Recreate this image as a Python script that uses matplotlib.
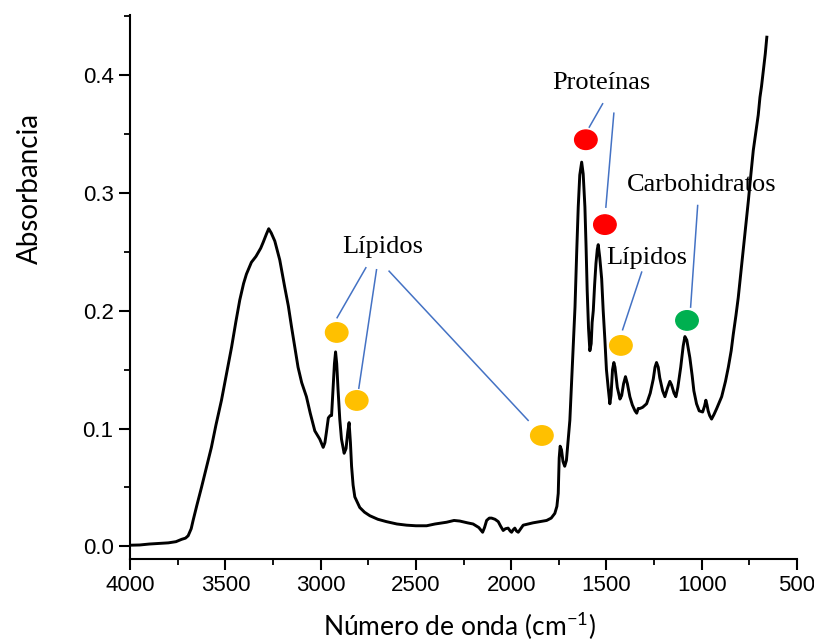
import matplotlib
matplotlib.use('Agg')
from matplotlib import pyplot as plt
from matplotlib.patches import Ellipse
from matplotlib.ticker import MultipleLocator, FormatStrFormatter

# spectrum (wavenumber cm-1, absorbance)
wavenumber = [4000, 3950, 3900, 3850, 3800, 3760, 3730, 3710, 3696, 3680, 3670, 3650,
	3626, 3600, 3574, 3550, 3521, 3495, 3468, 3445, 3425, 3405, 3390, 3364, 3340, 3329,
	3315, 3302, 3285, 3273, 3260, 3241, 3215, 3189, 3170, 3153, 3135, 3119, 3100, 3075,
	3055, 3031, 3005, 2995, 2987, 2978, 2970, 2960, 2950, 2943, 2935, 2928, 2922, 2916,
	2909, 2900, 2891, 2877, 2867, 2858, 2851, 2844, 2838, 2830, 2821, 2795, 2770, 2742,
	2700, 2655, 2600, 2549, 2500, 2444, 2400, 2339, 2300, 2270, 2230, 2200, 2170, 2150,
	2140, 2129, 2115, 2103, 2085, 2068, 2055, 2042, 2030, 2016, 2005, 1998, 1990, 1981,
	1972, 1963, 1950, 1937, 1910, 1885, 1850, 1814, 1790, 1771, 1760, 1753, 1748, 1743,
	1736, 1728, 1719, 1710, 1700, 1692, 1680, 1665, 1656, 1648, 1640, 1630, 1622, 1613,
	1607, 1601, 1594, 1587, 1580, 1575, 1569, 1562, 1555, 1548, 1543, 1535, 1525, 1517,
	1508, 1500, 1491, 1482, 1476, 1468, 1461, 1455, 1443, 1429, 1420, 1410, 1400, 1390,
	1377, 1364, 1350, 1341, 1333, 1324, 1310, 1289, 1270, 1254, 1245, 1237, 1228, 1220,
	1205, 1193, 1180, 1167, 1158, 1145, 1135, 1125, 1110, 1097, 1088, 1078, 1062, 1050,
	1041, 1027, 1013, 995, 985, 978, 972, 966, 958, 948, 935, 921, 895, 875, 860, 845,
	834, 820, 808, 795, 782, 768, 755, 742, 729, 717, 703, 694, 686, 676, 666, 658]
absorbance = [0.001, 0.0012, 0.002, 0.0025, 0.003, 0.004, 0.006, 0.007, 0.009, 0.015, 0.022, 0.035,
	0.050, 0.067, 0.084, 0.103, 0.124, 0.146, 0.169, 0.191, 0.209, 0.223, 0.231, 0.241, 0.246, 0.249,
	0.253, 0.258, 0.265, 0.2695, 0.266, 0.259, 0.243, 0.220, 0.204, 0.186, 0.168, 0.152, 0.139, 0.127,
	0.113, 0.098, 0.091, 0.087, 0.084, 0.088, 0.097, 0.109, 0.111, 0.111, 0.135, 0.155, 0.165, 0.155,
	0.133, 0.108, 0.091, 0.079, 0.083, 0.097, 0.105, 0.088, 0.068, 0.052, 0.042, 0.033, 0.029, 0.026,
	0.023, 0.021, 0.019, 0.018, 0.0175, 0.0175, 0.019, 0.0205, 0.022, 0.0215, 0.020, 0.019, 0.016, 0.012,
	0.016, 0.022, 0.024, 0.024, 0.023, 0.021, 0.017, 0.0135, 0.015, 0.0155, 0.013, 0.012, 0.014, 0.0155,
	0.013, 0.012, 0.015, 0.018, 0.019, 0.020, 0.021, 0.022, 0.024, 0.028, 0.034, 0.045, 0.075, 0.085,
	0.082, 0.072, 0.068, 0.073, 0.092, 0.107, 0.150, 0.203, 0.250, 0.288, 0.315, 0.326, 0.316, 0.288,
	0.255, 0.217, 0.185, 0.166, 0.172, 0.190, 0.200, 0.222, 0.240, 0.252, 0.256, 0.245, 0.227, 0.200,
	0.175, 0.150, 0.135, 0.121, 0.128, 0.150, 0.156, 0.152, 0.135, 0.125, 0.128, 0.138, 0.144, 0.138,
	0.127, 0.120, 0.115, 0.113, 0.117, 0.117, 0.118, 0.121, 0.130, 0.142, 0.152, 0.156, 0.152, 0.143,
	0.132, 0.127, 0.134, 0.140, 0.137, 0.130, 0.127, 0.135, 0.152, 0.170, 0.178, 0.175, 0.160, 0.145,
	0.132, 0.121, 0.115, 0.114, 0.119, 0.124, 0.120, 0.115, 0.111, 0.108, 0.112, 0.117, 0.127, 0.140, 0.152, 0.166,
	0.180, 0.196, 0.211, 0.231, 0.251, 0.272, 0.293, 0.315, 0.336, 0.350, 0.366, 0.381, 0.390, 0.404, 0.418, 0.432]

# band markers
dot_x = [2916, 2811, 1839, 1424, 1608, 1508, 1077]
dot_y = [0.1815, 0.1238, 0.0941, 0.1705, 0.345, 0.273, 0.1917]
dot_col = ['#FFC000', '#FFC000', '#FFC000', '#FFC000', '#FF0000', '#FF0000', '#00B050']

# labels
label_txt = ['Lípidos', 'Proteínas', 'Carbohidratos', 'Lípidos']
label_x = [2674, 1529, 1000, 1289]
label_y = [0.2536, 0.3935, 0.307, 0.245]

# leader lines (x1, y1, x2, y2)
leaders = [
	(2763, 0.2364, 2914, 0.194),
	(2707, 0.2347, 2800, 0.1342),
	(2641, 0.2335, 1911, 0.1069),
	(1520, 0.3755, 1590, 0.3557),
	(1461, 0.3675, 1503, 0.2878),
	(1021, 0.2892, 1058, 0.203),
	(1315, 0.2327, 1415, 0.1838),
]

fig = plt.figure(figsize=(8.14, 6.43), dpi=100)
ax = fig.add_axes([0.160, 0.131, 0.819, 0.846])

ax.plot(wavenumber, absorbance, color='black', lw=2.1, solid_joinstyle='round')

for x1, y1, x2, y2 in leaders:
	ax.plot([x1, x2], [y1, y2], color='#4472C4', lw=1.1)

for x, y, c in zip(dot_x, dot_y, dot_col):
	ax.add_patch(Ellipse((x, y), width=118, height=0.0165, color=c, zorder=3))

for t, x, y in zip(label_txt, label_x, label_y):
	ax.text(x, y, t, fontfamily='Liberation Serif', fontsize=19, ha='center', va='center')

ax.set_xlim(4000, 500)
ax.set_ylim(-0.0105, 0.451)
ax.xaxis.set_major_locator(MultipleLocator(500))
ax.xaxis.set_minor_locator(MultipleLocator(250))
ax.yaxis.set_major_locator(MultipleLocator(0.1))
ax.yaxis.set_minor_locator(MultipleLocator(0.05))
ax.yaxis.set_major_formatter(FormatStrFormatter('%.1f'))

for s in ['top', 'right']:
	ax.spines[s].set_visible(False)
for s in ['left', 'bottom']:
	ax.spines[s].set_linewidth(1.5)

ax.tick_params(which='major', direction='out', length=8, width=1.5, labelsize=16, pad=4)
ax.tick_params(which='minor', direction='out', length=4, width=1.3)
for lab in ax.get_xticklabels() + ax.get_yticklabels():
	lab.set_fontfamily('Liberation Sans')

fig.text(30/814, 1 - 188/643, 'Absorbancia', rotation=90, ha='center', va='center',
	fontfamily='Lato', fontsize=20)
fig.text(460/814, 1 - 626/643, 'Número de onda (cm$^{\\mathregular{-1}}$)', ha='center', va='center',
	fontfamily='Lato', fontsize=19)

fig.savefig('out.png', dpi=100)
